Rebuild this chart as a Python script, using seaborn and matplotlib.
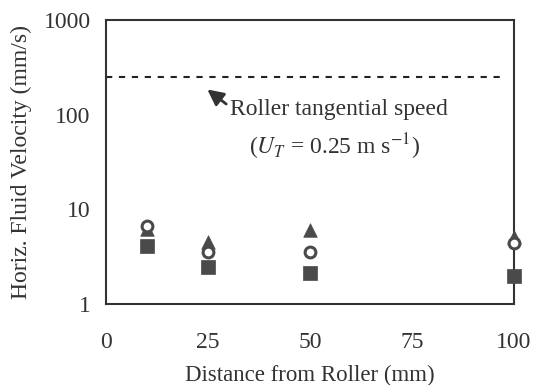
import matplotlib
matplotlib.use("Agg")
import matplotlib.pyplot as plt
import seaborn as sns
import pandas as pd

distance = [10, 25, 50, 100]
triangle_vals = [6.2, 4.5, 6.1, 5.1]
circle_vals = [6.6, 3.5, 3.55, 4.4]
square_vals = [4.1, 2.47, 2.14, 1.97]
roller_speed = 250
x_ticks = [0, 25, 50, 75, 100]
y_ticks = [1, 10, 100, 1000]

sns.set_theme(style="white")
plt.rcParams['font.family'] = ['Liberation Serif', 'DejaVu Serif']
plt.rcParams['mathtext.fontset'] = 'stix'

fig = plt.figure(figsize=(5.34, 3.85), dpi=100)
ax = fig.add_axes([0.1985, 0.2104, 0.764, 0.738])

dark = "#4a4a4a"
df_t = pd.DataFrame({"x": distance, "y": triangle_vals})
df_c = pd.DataFrame({"x": distance, "y": circle_vals})
df_s = pd.DataFrame({"x": distance, "y": square_vals})

sns.scatterplot(data=df_t, x="x", y="y", marker="^", s=95, color=dark,
                edgecolor=dark, linewidth=0.5, ax=ax, clip_on=False, zorder=3)
sns.scatterplot(data=df_c, x="x", y="y", marker="o", s=60, facecolor="white",
                edgecolor=dark, linewidth=2.2, ax=ax, clip_on=False, zorder=4)
sns.scatterplot(data=df_s, x="x", y="y", marker="s", s=100, color=dark,
                edgecolor=dark, linewidth=0.5, ax=ax, clip_on=False, zorder=3)

ax.plot([0, 98], [roller_speed, roller_speed], color="#222222", lw=1.5,
        dashes=(3, 3.2))

fs = 16.5
ax.set_yscale("log")
ax.set_xlim(0, 100)
ax.set_ylim(1, 1000)
ax.set_xticks(x_ticks)
ax.set_xticklabels([str(v) for v in x_ticks])
ax.set_yticks(y_ticks)
ax.set_yticklabels([str(v) for v in y_ticks])
ax.minorticks_off()
ax.tick_params(axis="both", direction="out", length=5, width=1.2,
               color="#333333", labelsize=17, labelcolor="#333333", pad=6)
ax.tick_params(axis="x", pad=15)
for sp in ax.spines.values():
    sp.set_visible(True)
    sp.set_color("#333333")
    sp.set_linewidth(1.5)

ax.set_xlabel("Distance from Roller (mm)", fontsize=fs, color="#333333", labelpad=9)
ax.set_ylabel("Horiz. Fluid Velocity (mm/s)", fontsize=17, color="#333333", labelpad=8)

ax.annotate("", xy=(24.3, 192), xytext=(30.0, 124),
            arrowprops=dict(arrowstyle="-|>,head_length=0.8,head_width=0.4",
                            color="#333333", lw=2.0))
ax.text(30.5, 112, "Roller tangential speed", fontsize=17, color="#333333",
        ha="left", va="center")
ax.text(56, 46, r"($U_T$ = 0.25 m s$^{\mathrm{-1}}$)", fontsize=17, color="#333333",
        ha="center", va="center")

fig.savefig("out.png", dpi=100)
